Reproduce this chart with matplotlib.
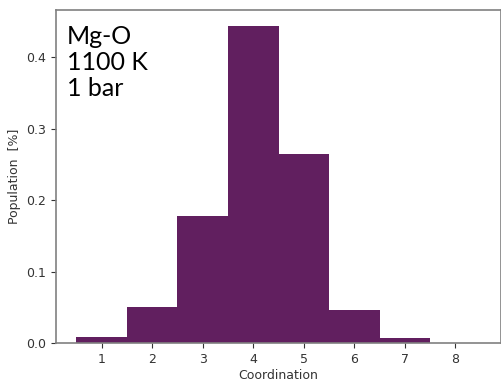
import matplotlib
matplotlib.use("Agg")
import matplotlib.pyplot as plt

# coordination numbers and their population
coordination = [1, 2, 3, 4, 5, 6, 7, 8]
population = [0.0085, 0.051, 0.178, 0.444, 0.265, 0.046, 0.0066, 0.0]
label_text = "Mg-O\n1100 K\n1 bar"

fig = plt.figure(figsize=(5.02, 3.81), dpi=100)
ax = fig.add_axes([0.1116, 0.0997, 0.8864, 0.8743])

ax.bar(coordination, population, width=1.0, color="#611F5F", linewidth=0)
ax.set_xticks(coordination)

ax.set_xlabel("Coordination", fontsize=9, color="#333333", labelpad=2)
ax.set_ylabel("Population  [%]", fontsize=9, color="#333333")
ax.tick_params(labelsize=9, colors="#333333")
for s in ax.spines.values():
    s.set_color("#808080")
    s.set_linewidth(1.2)

ax.text(0.025, 0.955, label_text, transform=ax.transAxes, va="top", ha="left",
        fontsize=18, family="Lato", linespacing=1.15)

fig.savefig("out.png", dpi=100)
